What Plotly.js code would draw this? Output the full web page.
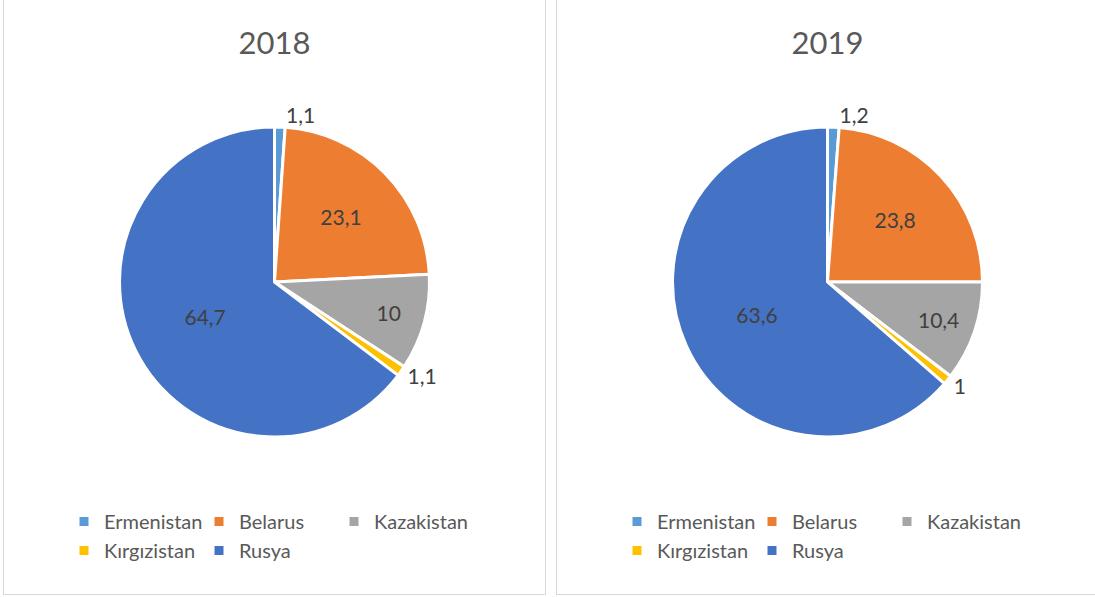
<!DOCTYPE html>
<html>
<head>
<meta charset="utf-8">
<script src="https://cdn.plot.ly/plotly-3.0.1.min.js"></script>
<style>
  html, body { margin: 0; padding: 0; background: #ffffff; overflow: hidden; width: 1095px; height: 597px; }
  .panel { position: absolute; top: -1px; width: 543px; height: 596px; box-sizing: border-box; border: 1px solid #d9d9d9; background: #fff; }
  #p1 { left: 3px; }
  #p2 { left: 556px; }
</style>
</head>
<body>
<div id="p1" class="panel"></div>
<div id="p2" class="panel"></div>
<script>
const categories = ["Ermenistan", "Belarus", "Kazakistan", "Kırgızistan", "Rusya"];
const values2018 = [1.1, 23.1, 10, 1.1, 64.7];
const values2019 = [1.2, 23.8, 10.4, 1, 63.6];
const years = ["2018", "2019"];
const sliceColors = ["#5B9BD5", "#ED7D31", "#A5A5A5", "#FFC000", "#4472C4"];
const textPositions = ["outside", "inside", "inside", "outside", "inside"];

const W = 541, H = 594;
const FONT = "Lato, 'Open Sans', sans-serif";

function draw(divId, title, vals) {
  const trace = {
    type: "pie",
    labels: categories,
    values: vals,
    text: vals.map(v => String(v).replace(".", ",")),
    textinfo: "text",
    textposition: textPositions,
    insidetextorientation: "horizontal",
    sort: false,
    direction: "clockwise",
    rotation: 0,
    marker: { colors: sliceColors, line: { color: "#ffffff", width: 3 } },
    textfont: { family: FONT, size: 21, color: "#404040" },
    insidetextfont: { family: FONT, size: 21, color: "#404040" },
    outsidetextfont: { family: FONT, size: 21, color: "#404040" },
    domain: { x: [0, 1], y: [0.2644, 0.7862] },
    hoverinfo: "label+value"
  };
  const layout = {
    width: W,
    height: H,
    margin: { l: 60, r: 60, t: 0, b: 0 },
    paper_bgcolor: "#ffffff",
    separators: ",.",
    font: { family: FONT, color: "#595959" },
    title: {
      text: title,
      x: 0.5, xanchor: "center",
      y: 0.9276, yanchor: "middle", yref: "container",
      font: { family: FONT, size: 31, color: "#595959" }
    },
    showlegend: true,
    legend: {
      orientation: "h",
      x: 0, xanchor: "left",
      y: 0.155, yanchor: "top",
      entrywidth: 90,
      entrywidthmode: "pixels",
      traceorder: "normal",
      font: { family: FONT, size: 20, color: "#595959" },
      bgcolor: "rgba(0,0,0,0)"
    }
  };
  Plotly.newPlot(divId, [trace], layout, { displayModeBar: false, staticPlot: true });
}

draw("p1", years[0], values2018);
draw("p2", years[1], values2019);
</script>
</body>
</html>
